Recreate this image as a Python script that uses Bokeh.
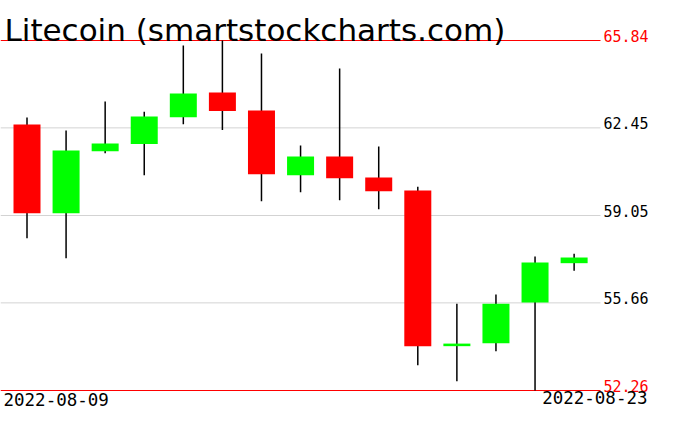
from bokeh.plotting import figure
from bokeh.models import Range1d, ColumnDataSource
from bokeh.core.properties import value
from bokeh.embed import file_html
from bokeh.resources import INLINE

title = "Litecoin (smartstockcharts.com)"
dates = ["2022-08-09", "2022-08-10", "2022-08-11", "2022-08-12", "2022-08-13",
         "2022-08-14", "2022-08-15", "2022-08-16", "2022-08-17", "2022-08-18",
         "2022-08-19", "2022-08-20", "2022-08-21", "2022-08-22", "2022-08-23"]
opens = [62.58, 59.14, 61.54, 61.82, 62.86, 63.82, 63.12, 60.61, 61.34, 60.52,
         60.02, 53.98, 54.09, 55.67, 57.20]
closes = [59.14, 61.57, 61.84, 62.89, 63.78, 63.10, 60.65, 61.34, 60.50, 59.99,
          53.98, 54.08, 55.63, 57.23, 57.42]
highs = [62.85, 62.35, 63.47, 63.08, 65.65, 65.84, 65.34, 61.77, 64.75, 61.73,
         60.17, 55.63, 55.98, 57.46, 57.57]
lows = [58.17, 57.39, 61.47, 60.61, 62.59, 62.37, 59.60, 59.95, 59.64, 59.29,
        53.24, 52.62, 53.78, 52.26, 56.91]
levels = [65.84, 62.45, 59.05, 55.66, 52.26]
level_labels = ["65.84", "62.45", "59.05", "55.66", "52.26"]

W, H = 660, 415
hi, lo = max(highs), min(lows)
top_px, bot_px = 40, 390          # canvas rows of the top/bottom price lines
vpp = (hi - lo) / (bot_px - top_px)   # value per pixel
step = 39.08                        # pixels per candle
x0_px = 26.5                        # canvas x of first candle centre

x_start = -x0_px / step
x_end = (W - x0_px) / step
y_end = hi + top_px * vpp
y_start = lo - (H - bot_px) * vpp


def xpx(px):
    return (px - x0_px) / step


p = figure(width=W, height=H, output_backend="svg", toolbar_location=None,
           x_axis_location=None, y_axis_location=None,
           x_range=Range1d(x_start, x_end), y_range=Range1d(y_start, y_end),
           min_border=0, tools="")
p.outline_line_color = None
p.xgrid.visible = False
p.ygrid.visible = False
p.background_fill_color = "white"
p.border_fill_color = "white"

n = len(dates)
xs = list(range(n))

# price level lines
lvl_colors = ["red" if (v == hi or v == lo) else "#d3d3d3" for v in levels]
txt_colors = ["red" if (v == hi or v == lo) else "black" for v in levels]
lsrc = ColumnDataSource(dict(y=levels, c=lvl_colors, tc=txt_colors, t=level_labels))
p.segment(x0=x_start, x1=xpx(600), y0="y", y1="y", color="c", line_width=1, source=lsrc)
p.text(x=xpx(603), y="y", text="t", text_color="tc", source=lsrc,
       text_font=value("DejaVu Sans Mono"), text_font_size="15px",
       text_baseline="middle", text_align="left", y_offset=-4.5)

# candles
body_colors = ["#00ff00" if c >= o else "#ff0000" for o, c in zip(opens, closes)]
csrc = ColumnDataSource(dict(x=xs, o=opens, c=closes, h=highs, l=lows,
                             top=[max(a, b) for a, b in zip(opens, closes)],
                             bot=[min(a, b) for a, b in zip(opens, closes)],
                             col=body_colors))
p.segment(x0="x", x1="x", y0="l", y1="h", color="black", line_width=1.5, source=csrc)
p.vbar(x="x", width=27 / step, top="top", bottom="bot", fill_color="col",
       line_color=None, source=csrc)

# title
p.text(x=[xpx(4)], y=[hi + 11 * vpp], text=[title], text_color="black",
       text_font=value("DejaVu Sans"), text_font_size="31px",
       text_baseline="middle", text_align="left")

# first / last date labels
p.text(x=[xpx(3)], y=[lo - 8.7 * vpp], text=[dates[0]], text_color="black",
       text_font=value("DejaVu Sans Mono"), text_font_size="17.5px",
       text_baseline="middle", text_align="left")
p.text(x=[xpx(647)], y=[lo - 6.7 * vpp], text=[dates[-1]], text_color="black",
       text_font=value("DejaVu Sans Mono"), text_font_size="17.5px",
       text_baseline="middle", text_align="right")

open("out.html", "w").write(file_html(p, INLINE))
